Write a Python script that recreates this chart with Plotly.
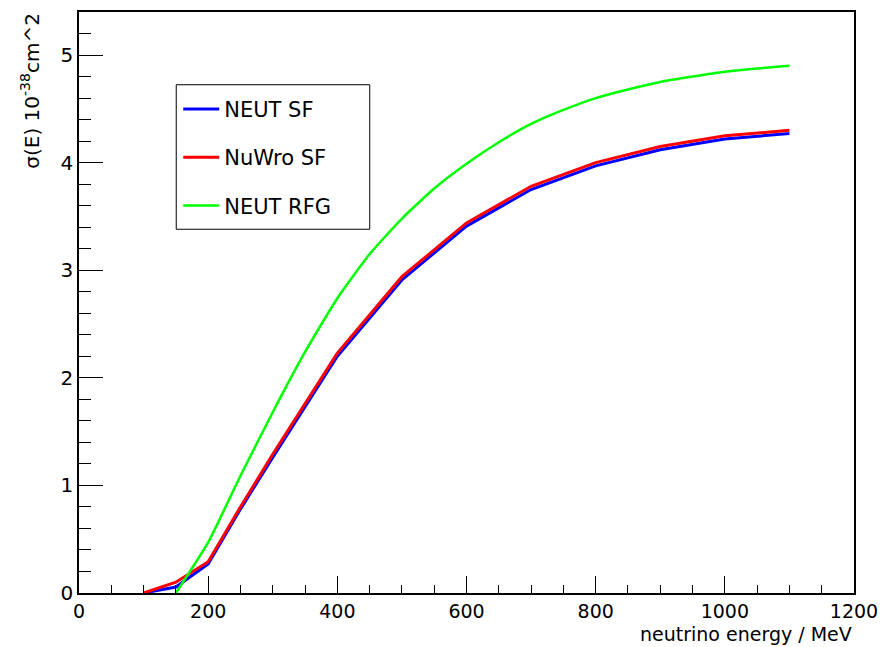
import plotly.graph_objects as go

# Data
energy_sf = [100, 150, 200, 250, 300, 400, 500, 600, 700, 800, 900, 1000, 1100]
neut_sf = [0.0, 0.055, 0.27, 0.78, 1.26, 2.20, 2.91, 3.41, 3.75, 3.97, 4.12, 4.22, 4.27]
nuwro_sf = [0.0, 0.10, 0.29, 0.80, 1.29, 2.23, 2.94, 3.44, 3.78, 4.00, 4.15, 4.25, 4.30]

energy_rfg = [150, 200, 250, 300, 350, 400, 450, 500, 550, 600, 650, 700, 750,
              800, 850, 900, 950, 1000, 1050, 1100]
neut_rfg = [0.0, 0.47, 1.09, 1.68, 2.24, 2.74, 3.15, 3.48, 3.76, 3.99, 4.19, 4.36,
            4.49, 4.60, 4.68, 4.75, 4.80, 4.845, 4.875, 4.90]

FONT = "DejaVu Sans"

fig = go.Figure()
fig.add_trace(go.Scatter(x=energy_sf, y=neut_sf, mode="lines", name="NEUT SF",
                         line=dict(color="#0000ff", width=3), legendgroup="a"))
fig.add_trace(go.Scatter(x=energy_sf, y=nuwro_sf, mode="lines", name="NuWro SF",
                         line=dict(color="#ff0000", width=3), legendgroup="b"))
fig.add_trace(go.Scatter(x=energy_rfg, y=neut_rfg, mode="lines", name="NEUT RFG",
                         line=dict(color="#00ff00", width=2.5, shape="spline", smoothing=0.5),
                         legendgroup="c"))

fig.update_layout(
    width=888, height=647,
    margin=dict(l=79, r=28, t=10, b=54),
    paper_bgcolor="white", plot_bgcolor="white",
    font=dict(family=FONT, size=19, color="black"),
    showlegend=True,
    legend=dict(x=(179 - 79) / 781, y=(593 - 87) / 583, xanchor="left", yanchor="top",
                borderwidth=0, bgcolor="rgba(0,0,0,0)",
                font=dict(family=FONT, size=21, color="black"),
                tracegroupgap=18, itemwidth=36),
    shapes=[dict(type="rect", xref="paper", yref="paper",
                 x0=(177 - 79) / 781, x1=(372 - 79) / 781,
                 y0=(593 - 228) / 583, y1=(593 - 83) / 583,
                 line=dict(color="black", width=1), fillcolor="white", layer="below")],
)

fig.update_xaxes(
    range=[0, 1200], dtick=200, tick0=0,
    showgrid=False, zeroline=False,
    showline=True, linecolor="black", linewidth=1.5, mirror=True,
    ticks="inside", ticklen=17, tickwidth=1, tickcolor="black",
    minor=dict(ticks="inside", ticklen=8, dtick=50, tickcolor="black", tickwidth=1, showgrid=False),
    tickfont=dict(family=FONT, size=19, color="black"),
)
fig.update_yaxes(
    range=[0, 5.4], dtick=1, tick0=0,
    showgrid=False, zeroline=False,
    showline=True, linecolor="black", linewidth=1.5, mirror=True,
    ticks="inside", ticklen=24, tickwidth=1, tickcolor="black",
    minor=dict(ticks="inside", ticklen=12, dtick=0.2, tickcolor="black", tickwidth=1, showgrid=False),
    tickfont=dict(family=FONT, size=20, color="black"),
)

fig.add_annotation(text="neutrino energy / MeV", xref="paper", yref="paper",
                   x=1.0, y=-0.0703, xanchor="right", yanchor="middle",
                   showarrow=False, font=dict(family=FONT, size=19, color="black"))
fig.add_annotation(text="σ(E) 10<sup>-38</sup>cm^2", xref="paper", yref="paper",
                   x=-0.0627, y=1.003, xanchor="center", yanchor="top", textangle=-90,
                   showarrow=False, font=dict(family=FONT, size=20, color="black"))

fig.write_html("out.html")
